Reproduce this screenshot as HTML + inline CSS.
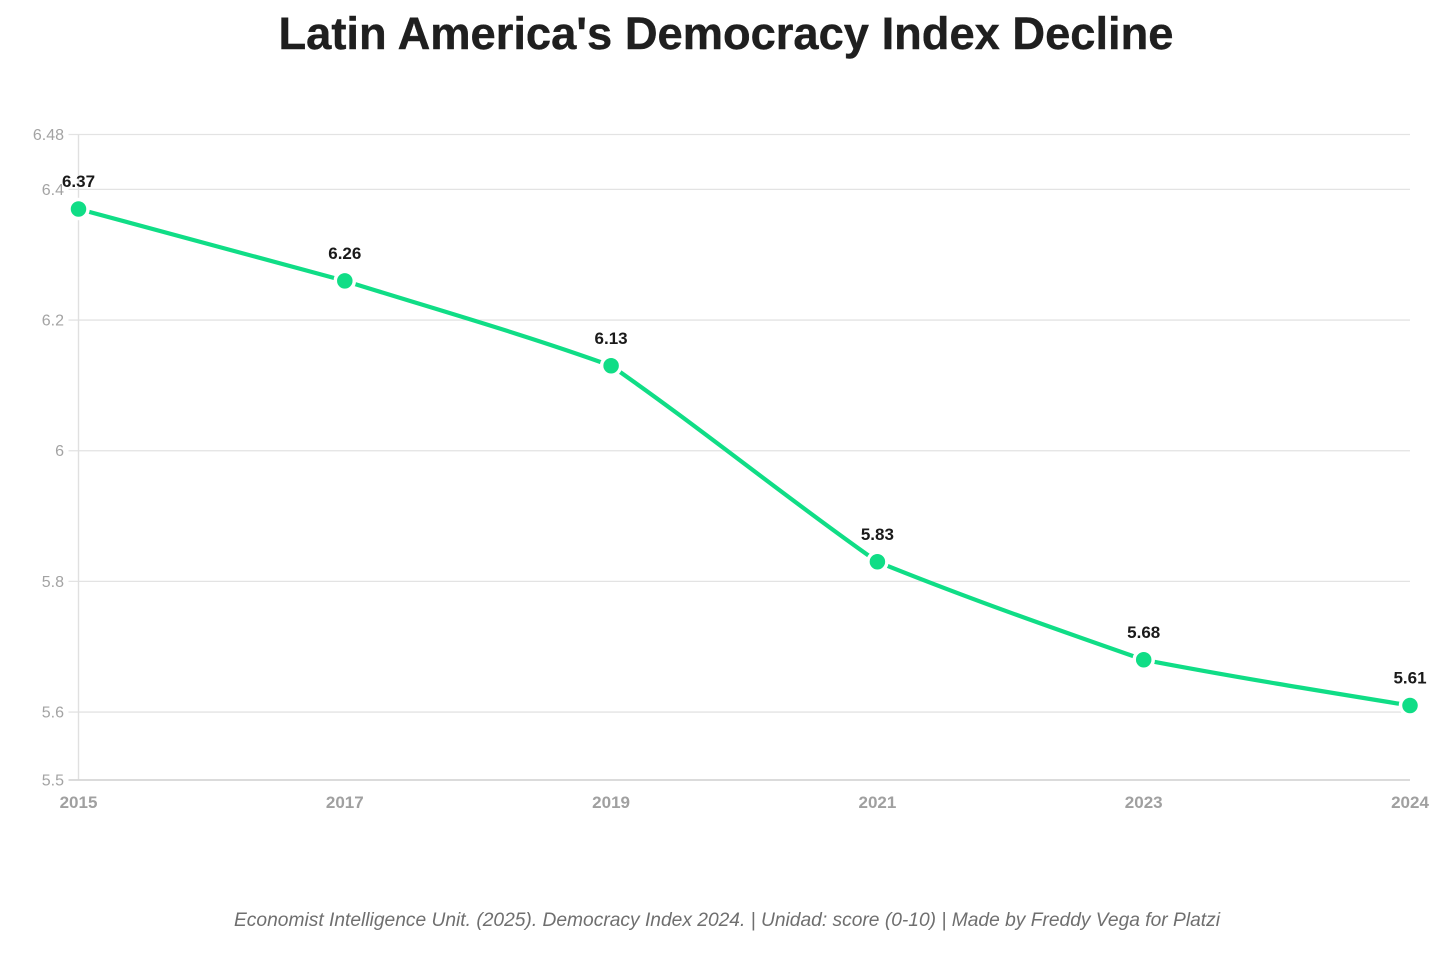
<!DOCTYPE html>
<html lang="en">
<head>
<meta charset="utf-8">
<title>Latin America's Democracy Index Decline</title>
<style>
  html, body { margin: 0; padding: 0; background: #fff; }
  body { width: 1456px; height: 953px; overflow: hidden; }
  svg { display: block; font-family: "Liberation Sans", sans-serif; }
</style>
</head>
<body>
<svg id="chart" width="1456" height="953" viewBox="0 0 1456 953" xmlns="http://www.w3.org/2000/svg">
  <rect x="0" y="0" width="1456" height="953" fill="#ffffff"/>
  <text x="726" y="49" text-anchor="middle" font-size="45" font-weight="700" fill="#1f1f1f" stroke="#1f1f1f" stroke-width="0.4" textLength="895" lengthAdjust="spacingAndGlyphs">Latin America's Democracy Index Decline</text>
  <g id="grid"></g>
  <g id="y-axis"></g>
  <g id="x-axis"></g>
  <g id="series"></g>
  <text x="727" y="926" text-anchor="middle" font-size="19" font-style="italic" fill="#6f6f6f" textLength="986" lengthAdjust="spacingAndGlyphs">Economist Intelligence Unit. (2025). Democracy Index 2024. | Unidad: score (0-10) | Made by Freddy Vega for Platzi</text>
</svg>
<script>
const categories = ["2015", "2017", "2019", "2021", "2023", "2024"];
const seriesValues = [6.37, 6.26, 6.13, 5.83, 5.68, 5.61];
const printedValues = ["6.37", "6.26", "6.13", "5.83", "5.68", "5.61"];
const yTickValues = [5.496, 5.6, 5.8, 6, 6.2, 6.4, 6.484];
const yTickLabels = ["5.5", "5.6", "5.8", "6", "6.2", "6.4", "6.48"];

const NS = "http://www.w3.org/2000/svg";
const plot = { left: 78.5, right: 1410, top: 134.5, bottom: 780 };
const domain = { min: 5.496, max: 6.484 };
const smoothing = 0.2;

function xScale(i) {
  return plot.left + i * (plot.right - plot.left) / (categories.length - 1);
}
function yScale(v) {
  return plot.bottom - (v - domain.min) * (plot.bottom - plot.top) / (domain.max - domain.min);
}
function make(tag, parent, attrs) {
  const el = document.createElementNS(NS, tag);
  Object.keys(attrs).forEach(function (k) { el.setAttribute(k, attrs[k]); });
  parent.appendChild(el);
  return el;
}
function sign(x) { return x < 0 ? -1 : 1; }
function softPath(pts) {
  const n = pts.length;
  if (n < 2) return "";
  const h = [], s = [], t = [];
  for (let i = 0; i < n - 1; i++) {
    h.push(pts[i + 1][0] - pts[i][0]);
    s.push((pts[i + 1][1] - pts[i][1]) / h[i]);
  }
  for (let i = 1; i < n - 1; i++) {
    const p = (s[i - 1] * h[i] + s[i] * h[i - 1]) / (h[i - 1] + h[i]);
    t[i] = (sign(s[i - 1]) + sign(s[i])) * Math.min(Math.abs(s[i - 1]), Math.abs(s[i]), 0.5 * Math.abs(p)) || 0;
  }
  t[0] = n > 2 ? (3 * s[0] - t[1]) / 2 : s[0];
  t[n - 1] = n > 2 ? (3 * s[n - 2] - t[n - 2]) / 2 : s[0];
  let d = "M" + pts[0][0] + "," + pts[0][1];
  for (let i = 0; i < n - 1; i++) {
    const dx = h[i] / 3;
    const leave = s[i] + smoothing * (t[i] - s[i]);
    const arrive = s[i] + smoothing * (t[i + 1] - s[i]);
    d += "C" + (pts[i][0] + dx) + "," + (pts[i][1] + dx * leave) + "," +
         (pts[i + 1][0] - dx) + "," + (pts[i + 1][1] - dx * arrive) + "," +
         pts[i + 1][0] + "," + pts[i + 1][1];
  }
  return d;
}

const gridGroup = document.getElementById("grid");
const yGroup = document.getElementById("y-axis");
const xGroup = document.getElementById("x-axis");
const seriesGroup = document.getElementById("series");

yTickValues.forEach(function (v, i) {
  const y = yScale(v);
  if (i > 0) {
    const g = make("line", gridGroup, { x1: plot.left - 10, x2: plot.right, y1: y, y2: y, stroke: "#e3e3e3", "stroke-width": 1.3 });
    
    
  }
  const t = make("text", yGroup, { x: 64, y: y + 5.5, "text-anchor": "end", "font-size": 16, fill: "#a3a3a3" });
  
  
  t.textContent = yTickLabels[i];
});

const yAxisLine = make("line", yGroup, { x1: plot.left, x2: plot.left, y1: plot.top, y2: plot.bottom, stroke: "#e0e0e0", "stroke-width": 1.4 });



const xAxisLine = make("line", xGroup, { x1: plot.left - 10, x2: plot.right, y1: plot.bottom, y2: plot.bottom, stroke: "#d6d6d6", "stroke-width": 1.8 });



categories.forEach(function (c, i) {
  const t = make("text", xGroup, { x: xScale(i), y: 808, "text-anchor": "middle", "font-size": 17, "font-weight": 700, fill: "#a0a0a0" });
  
  
  t.textContent = c;
});

const points = seriesValues.map(function (v, i) { return [xScale(i), yScale(v)]; });
const linePath = make("path", seriesGroup, { d: softPath(points), fill: "none", stroke: "#10dd86", "stroke-width": 4.2, "stroke-linejoin": "round" });



points.forEach(function (p, i) {
  const m = make("circle", seriesGroup, { cx: p[0], cy: p[1], r: 9.5, fill: "#10dd86", stroke: "#ffffff", "stroke-width": 3.5 });
  
  
  const t = make("text", seriesGroup, { x: p[0], y: p[1] - 22, "text-anchor": "middle", "font-size": 17, "font-weight": 700, fill: "#1a1a1a" });
  
  
  t.textContent = printedValues[i];
});
</script>
</body>
</html>
